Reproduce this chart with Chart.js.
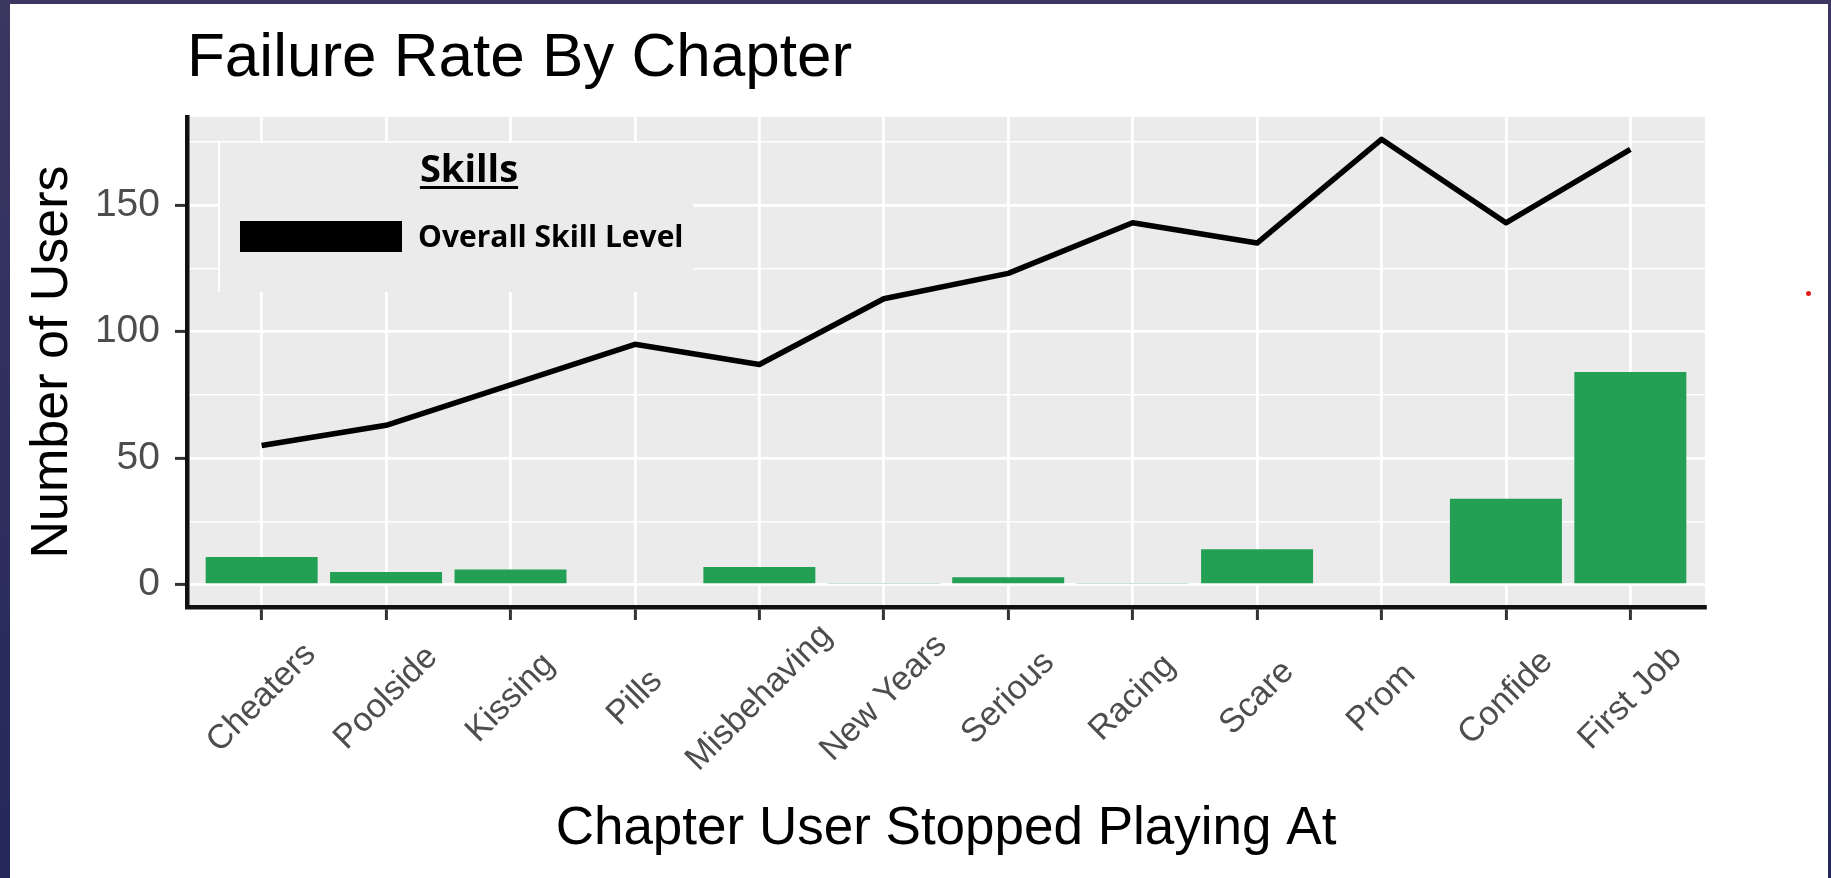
<!DOCTYPE html>
<html>
<head>
<meta charset="utf-8">
<title>Failure Rate By Chapter</title>
<script src="https://cdn.jsdelivr.net/npm/chart.js@4.4.1/dist/chart.umd.min.js"></script>
<style>
    html, body { margin: 0; padding: 0; }
    body {
        width: 1831px; height: 878px; overflow: hidden; position: relative;
        background: linear-gradient(#3b3761, #24285a);
    }
    .chart-box { position: absolute; left: 10px; top: 4px; width: 1818px; height: 874px; background: #fff; }
    .red-dot { position: absolute; left: 1806px; top: 291px; width: 5px; height: 5px; border-radius: 50%; background: #e21b1b; }
</style>
</head>
<body>
<div class="chart-box">
    <canvas id="myChart" width="1818" height="874"></canvas>
</div>
<div class="red-dot"></div>

<script>
var chapters = ["Cheaters", "Poolside", "Kissing", "Pills", "Misbehaving", "New Years",
    "Serious", "Racing", "Scare", "Prom", "Confide", "First Job"];
// black line - overall skill level per chapter
var skillLevel = [55, 63, 79, 95, 87, 113, 123, 143, 135, 176, 143, 172];
// green bars - users who stopped playing at the chapter
var usersStopped = [11, 5, 6, 0, 7, 0.5, 3, 0.5, 14, 0, 34, 84];
var yTicks = [0, 25, 50, 75, 100, 125, 150, 175];
var legendTitle = "Skills";
var legendLabel = "Overall Skill Level";

var ARIAL = "'Liberation Sans', Arial, sans-serif";

function toPoints(values) {
    return values.map(function (v, i) { return { x: i, y: v } });
}

function isMajor(ctx) {
    return ctx.tick && ctx.tick.value % 50 === 0;
}

// grey ggplot style panel
var panelBg = {
    id: 'panelBg',
    beforeDraw: function (chart) {
        var a = chart.chartArea;
        var ctx = chart.ctx;
        ctx.save();
        ctx.fillStyle = '#EBEBEB';
        ctx.fillRect(a.left, a.top, a.right - a.left, a.bottom - a.top);
        ctx.restore();
    }
};

// legend box sitting inside the panel, top left
var skillsLegend = {
    id: 'skillsLegend',
    beforeDatasetsDraw: function (chart) {
        var a = chart.chartArea;
        var ctx = chart.ctx;
        ctx.save();
        ctx.fillStyle = '#EBEBEB';
        ctx.fillRect(a.left + 32, a.top + 26, 474, 149);
        ctx.fillStyle = '#ffffff';
        ctx.fillRect(a.left + 31, a.top + 25, 2, 150);

        ctx.fillStyle = '#000';
        ctx.font = "bold 38px 'Open Sans', sans-serif";
        ctx.textAlign = 'center';
        ctx.textBaseline = 'alphabetic';
        ctx.fillText(legendTitle, a.left + 282, a.top + 65);
        var w = ctx.measureText(legendTitle).width;
        ctx.fillRect(a.left + 282 - w / 2, a.top + 69, w, 3);

        ctx.fillRect(a.left + 53, a.top + 104, 162, 31);
        ctx.font = "bold 30px 'Open Sans', sans-serif";
        ctx.textAlign = 'left';
        ctx.fillText(legendLabel, a.left + 231, a.top + 130);
        ctx.restore();
    }
};

// rotated chapter names, centred under each tick
var chapterLabels = {
    id: 'chapterLabels',
    afterDraw: function (chart) {
        var xScale = chart.scales.x;
        var ctx = chart.ctx;
        var y = chart.chartArea.bottom + 91;
        ctx.save();
        ctx.fillStyle = '#4d4d4d';
        ctx.font = '34px ' + ARIAL;
        ctx.textAlign = 'center';
        ctx.textBaseline = 'middle';
        for (let [i, name] of chapters.entries()) {
            ctx.save();
            ctx.translate(xScale.getPixelForValue(i), y);
            ctx.rotate(-Math.PI / 4);
            ctx.fillText(name, 0, 0);
            ctx.restore();
        }
        ctx.restore();
    }
};

var ctx = document.getElementById('myChart').getContext('2d');
new Chart(ctx, {
    type: 'bar',
    data: {
        datasets: [{
            type: 'line',
            label: legendLabel,
            data: toPoints(skillLevel),
            borderColor: '#000000',
            borderWidth: 5.5,
            borderJoinStyle: 'round',
            pointRadius: 0,
            tension: 0,
            order: 1
        }, {
            type: 'bar',
            label: 'Users',
            data: toPoints(usersStopped),
            backgroundColor: '#23A053',
            borderWidth: 0,
            barPercentage: 0.9,
            categoryPercentage: 1,
            order: 2
        }]
    },
    options: {
        responsive: false,
        animation: false,
        layout: { padding: { left: 7, right: 123, top: 0, bottom: 13 } },
        plugins: {
            legend: { display: false },
            tooltip: { enabled: false },
            title: {
                display: true,
                text: 'Failure Rate By Chapter',
                align: 'start',
                fullSize: false,
                color: '#000',
                font: { family: ARIAL, size: 62, weight: 'normal', lineHeight: 1.2 },
                padding: { top: 18, bottom: 20.6 }
            }
        },
        scales: {
            x: {
                type: 'linear',
                min: -0.6,
                max: 11.6,
                offset: false,
                afterBuildTicks: function (scale) {
                    scale.ticks = chapters.map(function (c, i) { return { value: i } });
                },
                afterFit: function (scale) { scale.height = 258 },
                grid: { offset: false, color: '#ffffff', lineWidth: 2.8, tickLength: 13, tickColor: '#333333', tickWidth: 3 },
                border: { color: '#111111', width: 4.5 },
                ticks: { display: false, autoSkip: false },
                title: {
                    display: true,
                    text: 'Chapter User Stopped Playing At',
                    color: '#000',
                    font: { family: ARIAL, size: 53, lineHeight: 1.2 },
                    padding: { top: 4, bottom: 4 }
                }
            },
            y: {
                min: -8.8,
                max: 184.8,
                afterBuildTicks: function (scale) {
                    scale.ticks = yTicks.map(function (v) { return { value: v } });
                },
                afterFit: function (scale) { scale.width = 170 },
                grid: {
                    color: '#ffffff',
                    lineWidth: function (c) { return isMajor(c) ? 2.8 : 1.6 },
                    tickColor: function (c) { return isMajor(c) ? '#333333' : 'rgba(0,0,0,0)' },
                    tickLength: 12,
                    tickWidth: 3
                },
                border: { color: '#111111', width: 4.5 },
                ticks: {
                    autoSkip: false,
                    color: '#4d4d4d',
                    padding: 15,
                    font: { family: ARIAL, size: 39 },
                    callback: function (v) { return v % 50 === 0 ? v : '' }
                },
                title: {
                    display: true,
                    text: 'Number of Users',
                    color: '#000',
                    font: { family: ARIAL, size: 52, lineHeight: 1.2 },
                    padding: { top: 4, bottom: 4 }
                }
            }
        }
    },
    plugins: [panelBg, skillsLegend, chapterLabels]
});
</script>
</body>
</html>
